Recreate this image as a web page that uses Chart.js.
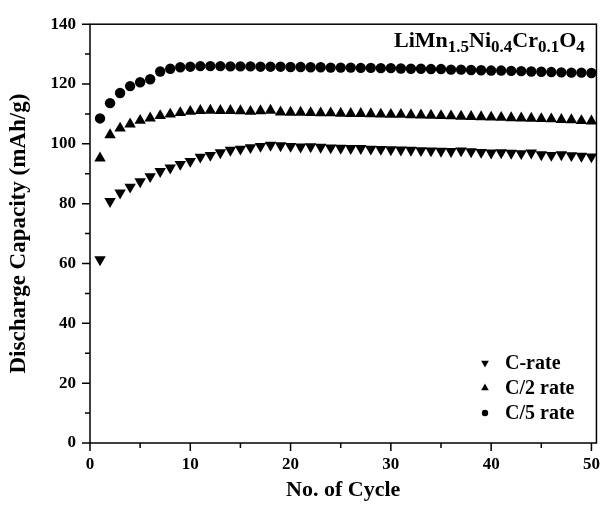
<!DOCTYPE html>
<html>
<head>
<meta charset="utf-8">
<title>Discharge capacity</title>
<script src="https://cdn.jsdelivr.net/npm/chart.js@4/dist/chart.umd.min.js"></script>
<style>
  html, body { margin: 0; padding: 0; background: #fff; }
  #wrap { width: 611px; height: 508px; }
</style>
</head>
<body>
<div id="wrap"><canvas id="myChart" width="611" height="508"></canvas></div>
<script>
'use strict';

//data

//cycle numbers
const cycles = [
  1, 2, 3, 4, 5, 6, 7, 8, 9, 10,
  11, 12, 13, 14, 15, 16, 17, 18, 19, 20,
  21, 22, 23, 24, 25, 26, 27, 28, 29, 30,
  31, 32, 33, 34, 35, 36, 37, 38, 39, 40,
  41, 42, 43, 44, 45, 46, 47, 48, 49, 50
];
//C-rate (mAh/g)
const cRate = [
  61.3, 80.8, 83.6, 85.6, 87.4, 89.1, 90.8, 92.0, 93.2, 94.2,
  95.6, 96.2, 97.1, 97.9, 98.3, 98.8, 99.2, 99.6, 99.4, 99.2,
  99.0, 99.1, 98.9, 98.7, 98.6, 98.5, 98.5, 98.3, 98.2, 98.1,
  98.0, 97.9, 97.8, 97.7, 97.6, 97.5, 97.7, 97.4, 97.2, 97.0,
  97.1, 96.9, 96.8, 97.0, 96.4, 96.2, 96.4, 96.1, 95.9, 95.7
];
//C/2 rate
const c2Rate = [
  95.2, 103.0, 105.2, 106.6, 107.8, 108.6, 109.4, 109.9, 110.4, 110.8,
  111.1, 111.2, 111.1, 111.1, 111.0, 110.8, 111.0, 111.2, 110.6, 110.5,
  110.5, 110.4, 110.3, 110.3, 110.2, 110.1, 110.1, 110.0, 109.9, 109.8,
  109.8, 109.7, 109.6, 109.5, 109.4, 109.3, 109.2, 109.1, 109.0, 108.9,
  108.8, 108.7, 108.6, 108.5, 108.4, 108.3, 108.1, 108.0, 107.7, 107.6
];
//C/5 rate
const c5Rate = [
  108.5, 113.6, 117.0, 119.3, 120.6, 121.6, 124.2, 125.1, 125.6, 125.8,
  126.0, 126.0, 126.0, 125.9, 125.9, 125.9, 125.8, 125.8, 125.8, 125.7,
  125.7, 125.6, 125.6, 125.5, 125.5, 125.5, 125.4, 125.4, 125.3, 125.3,
  125.2, 125.1, 125.1, 125.0, 125.0, 124.8, 124.8, 124.7, 124.6, 124.5,
  124.5, 124.4, 124.3, 124.2, 124.1, 124.0, 123.9, 123.8, 123.8, 123.7
];
const seriesNames = ['C-rate', 'C/2 rate', 'C/5 rate'];
const xTicks = [0, 10, 20, 30, 40, 50];
const yTicks = [0, 20, 40, 60, 80, 100, 120, 140];

//helpers

const serif = "'Liberation Serif', 'Times New Roman', serif";

function toPoints(values) {
  return cycles.map((c, i) => ({ x: c, y: values[i] }));
}

function tri(ctx, x, y, r, down) {
  //equilateral triangle, r = circumradius
  const s = down ? -1 : 1;
  ctx.beginPath();
  ctx.moveTo(x, y - s * r);
  ctx.lineTo(x + r * 0.866, y + s * r * 0.5);
  ctx.lineTo(x - r * 0.866, y + s * r * 0.5);
  ctx.closePath();
  ctx.fill();
}

//frame, ticks, legend and formula label
const decor = {
  id: 'decor',
  afterDraw(chart) {
    const ctx = chart.ctx;
    const area = chart.chartArea;
    const xs = chart.scales.x;
    const ys = chart.scales.y;
    ctx.save();
    ctx.strokeStyle = '#000';
    ctx.fillStyle = '#000';
    ctx.lineWidth = 1.5;
    ctx.strokeRect(area.left, area.top, area.right - area.left, area.bottom - area.top);

    //x ticks, major every 10, minor every 5
    ctx.beginPath();
    for(let v = 0; v <= 50; v += 5) {
      const px = xs.getPixelForValue(v);
      const len = v % 10 === 0 ? 8 : 5;
      ctx.moveTo(px, area.bottom);
      ctx.lineTo(px, area.bottom + len);
    }
    //y ticks, major every 20, minor every 10
    for(let v = 0; v <= 140; v += 10) {
      const py = ys.getPixelForValue(v);
      const len = v % 20 === 0 ? 8 : 5;
      ctx.moveTo(area.left, py);
      ctx.lineTo(area.left - len, py);
    }
    ctx.stroke();

    //legend
    ctx.font = 'bold 20px ' + serif;
    ctx.textBaseline = 'middle';
    ctx.textAlign = 'left';
    const rows = [363, 388, 413];
    for(let i = 0; i < seriesNames.length; i++) {
      const y = rows[i];
      if(i === 0) {
        tri(ctx, 485, y, 4.4, true);
      } else if(i === 1) {
        tri(ctx, 485, y, 4.4, false);
      } else {
        ctx.beginPath();
        ctx.arc(485, y, 3.2, 0, Math.PI * 2);
        ctx.fill();
      }
      ctx.fillText(seriesNames[i], 505, y + 1);
    }

    //formula
    const parts = [
      ['LiMn', false], ['1.5', true], ['Ni', false], ['0.4', true],
      ['Cr', false], ['0.1', true], ['O', false], ['4', true]
    ];
    ctx.textBaseline = 'alphabetic';
    let x = 394;
    for(const [txt, sub] of parts) {
      ctx.font = sub ? 'bold 17px ' + serif : 'bold 22px ' + serif;
      ctx.fillText(txt, x, sub ? 52 : 47);
      x += ctx.measureText(txt).width;
    }
    ctx.restore();
  }
};

//main

const data = {
  datasets: [{
    label: seriesNames[0],
    data: toPoints(cRate),
    pointStyle: 'triangle',
    rotation: 180,
    pointRadius: 6.6,
    backgroundColor: '#000',
    borderColor: '#000',
    borderWidth: 0,
    showLine: false
  }, {
    label: seriesNames[1],
    data: toPoints(c2Rate),
    pointStyle: 'triangle',
    pointRadius: 6.6,
    backgroundColor: '#000',
    borderColor: '#000',
    borderWidth: 0,
    showLine: false
  }, {
    label: seriesNames[2],
    data: toPoints(c5Rate),
    pointStyle: 'circle',
    pointRadius: 5.2,
    backgroundColor: '#000',
    borderColor: '#000',
    borderWidth: 0,
    showLine: false
  }]
};

const config = {
  type: 'scatter',
  data: data,
  plugins: [decor],
  options: {
    responsive: false,
    animation: false,
    layout: { padding: { top: 22, right: 6, left: 0, bottom: 0 } },
    plugins: {
      legend: { display: false },
      tooltip: { enabled: false }
    },
    scales: {
      x: {
        type: 'linear',
        min: 0,
        max: 50.5,
        afterBuildTicks(scale) {
          scale.ticks = xTicks.map(v => ({ value: v }));
        },
        afterFit(scale) {
          scale.height = 65;
        },
        grid: { display: false, drawTicks: false },
        border: { display: false },
        ticks: {
          padding: 11,
          color: '#000',
          font: { family: serif, size: 17, weight: 'bold' }
        },
        title: {
          display: true,
          text: 'No. of Cycle',
          color: '#000',
          padding: { top: 0, bottom: 4 },
          font: { family: serif, size: 22, weight: 'bold' }
        }
      },
      y: {
        min: 0,
        max: 140,
        afterBuildTicks(scale) {
          scale.ticks = yTicks.map(v => ({ value: v }));
        },
        afterFit(scale) {
          scale.width = 90;
        },
        grid: { display: false, drawTicks: false },
        border: { display: false },
        ticks: {
          padding: 14,
          color: '#000',
          font: { family: serif, size: 17, weight: 'bold' }
        },
        title: {
          display: true,
          text: 'Discharge Capacity (mAh/g)',
          color: '#000',
          padding: { top: 5, bottom: 0 },
          font: { family: serif, size: 23, weight: 'bold' }
        }
      }
    }
  }
};

let myChart = new Chart(document.getElementById('myChart'), config);
</script>
</body>
</html>
